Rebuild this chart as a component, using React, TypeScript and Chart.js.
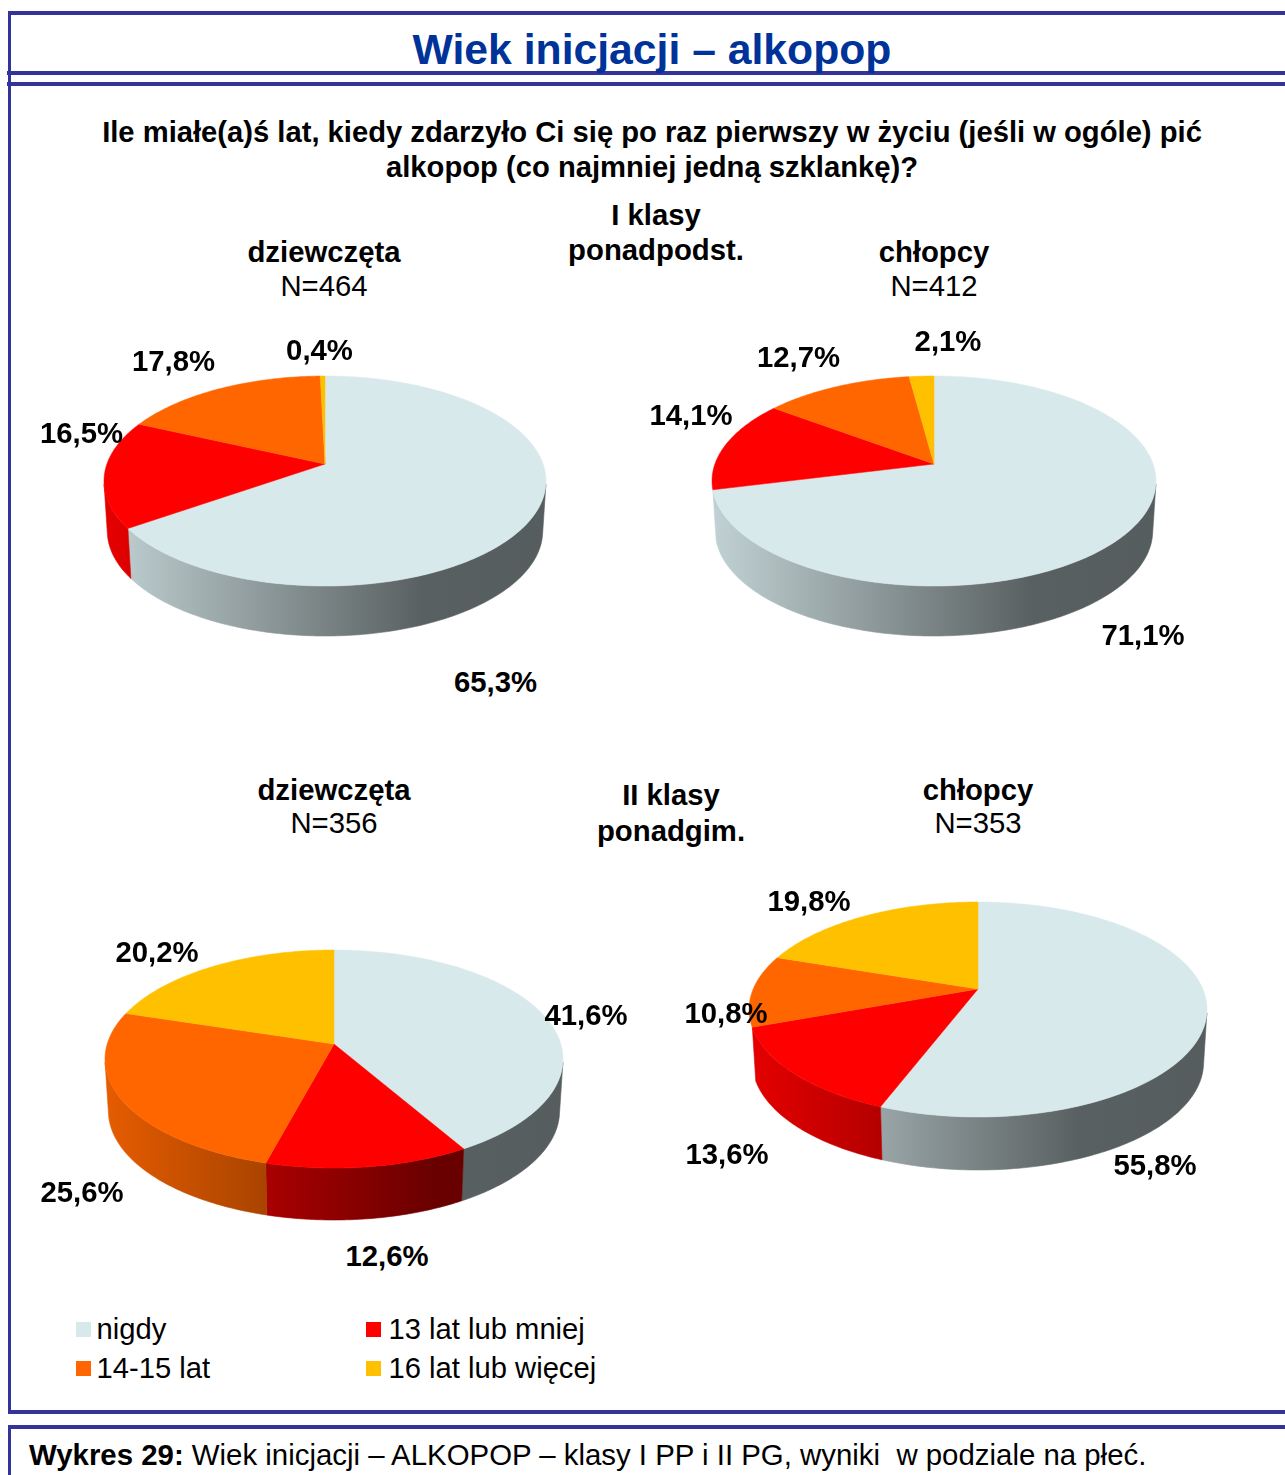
import React, { useEffect, useRef } from "react";
import { Chart, registerables } from "chart.js";

Chart.register(...registerables);

const FONT = '"Liberation Sans", Arial, sans-serif';

const categories = ["nigdy", "13 lat lub mniej", "14-15 lat", "16 lat lub więcej"];
const colors = ["#d8e9ec", "#ff0000", "#ff6600", "#ffc000"];

const girlsFirst = [65.3, 16.5, 17.8, 0.4];
const boysFirst = [71.1, 14.1, 12.7, 2.1];
const girlsSecond = [41.6, 12.6, 25.6, 20.2];
const boysSecond = [55.8, 13.6, 10.8, 19.8];

const pies = [
  { values: girlsFirst, cx: 325, cy: 464, left: 104, right: 546, top: 376, bottom: 586, depth: 50, lift: 0.03,
    labels: [[495.5, 682], [81.5, 433], [173.5, 361], [319.5, 350]] },
  { values: boysFirst, cx: 934, cy: 464, left: 712, right: 1156, top: 376, bottom: 586, depth: 50, lift: 0.085,
    labels: [[1143, 635], [691, 415], [798.5, 357], [948, 341]] },
  { values: girlsSecond, cx: 334, cy: 1044, left: 105, right: 563, top: 950, bottom: 1168, depth: 52, lift: 0.03,
    labels: [[586, 1015], [387, 1256], [82, 1192], [157, 952]] },
  { values: boysSecond, cx: 978, cy: 989, left: 749, right: 1207, top: 902, bottom: 1117, depth: 53, lift: 0.16,
    labels: [[1155, 1165], [727, 1154], [726, 1013], [809, 901]] },
];

const headers: [string, number, number, boolean][] = [
  ["I klasy", 656, 215, true],
  ["ponadpodst.", 656, 250, true],
  ["dziewczęta", 324, 252, true],
  ["N=464", 324, 286, false],
  ["chłopcy", 934, 252, true],
  ["N=412", 934, 286, false],
  ["dziewczęta", 334, 790, true],
  ["N=356", 334, 823, false],
  ["II klasy", 671, 795, true],
  ["ponadgim.", 671, 831, true],
  ["chłopcy", 978, 790, true],
  ["N=353", 978, 823, false],
];

function shade(hex: string, f: number) {
  const n = parseInt(hex.slice(1), 16);
  const r = Math.round(((n >> 16) & 255) * f);
  const g = Math.round(((n >> 8) & 255) * f);
  const b = Math.round((n & 255) * f);
  return `rgb(${r},${g},${b})`;
}

// Draws each arc element of the library's pie as a tilted slab, in perspective.
const slabPlugin = {
  id: "slab",
  beforeDatasetsDraw(chart: any, _args: any, o: any) {
    const ctx = chart.ctx;
    const { cx, cy, left, right, top, bottom, depth, lift, ox, oy } = o;
    const up = cy - top;
    const down = bottom - cy;
    const k = (down - up) / (down + up);
    const B = up * (1 + k);
    const R = ((right - left) / 2) * Math.sqrt(1 - k * k);
    const project = (a: number) => {
      const th = a + Math.PI / 2; // clockwise from 12 o'clock
      const u = Math.sin(th);
      const v = -Math.cos(th);
      const d = 1 - k * v;
      return [cx + (R * u) / d, cy + (B * v) / d];
    };
    const arcs = chart.getDatasetMeta(0).data;
    const wallFrom = Math.acos(-(k + 0.03)) - Math.PI / 2;
    const wallTo = 2 * Math.PI - Math.acos(-(k + lift)) - Math.PI / 2;
    ctx.save();
    ctx.translate(-ox, -oy);
    // side wall
    arcs.forEach((arc: any) => {
      const s = Math.max(arc.startAngle, wallFrom);
      const e = Math.min(arc.endAngle, wallTo);
      if (e <= s) return;
      const color = arc.options.backgroundColor;
      const g = ctx.createLinearGradient(left, 0, right, 0);
      g.addColorStop(0, shade(color, 0.9));
      g.addColorStop(0.72, shade(color, 0.41));
      g.addColorStop(1, shade(color, 0.4));
      const n = Math.max(4, Math.ceil((e - s) * 60));
      ctx.beginPath();
      for (let i = 0; i <= n; i++) {
        const p = project(s + ((e - s) * i) / n);
        if (i === 0) ctx.moveTo(p[0], p[1]);
        else ctx.lineTo(p[0], p[1]);
      }
      for (let i = n; i >= 0; i--) {
        const p = project(s + ((e - s) * i) / n);
        ctx.lineTo(cx + (p[0] - cx) * 0.985, p[1] + depth);
      }
      ctx.closePath();
      ctx.fillStyle = g;
      ctx.strokeStyle = g;
      ctx.lineWidth = 0.6;
      ctx.fill();
      ctx.stroke();
    });
    // top face
    arcs.forEach((arc: any) => {
      const s = arc.startAngle;
      const e = arc.endAngle;
      const n = Math.max(4, Math.ceil((e - s) * 60));
      ctx.beginPath();
      ctx.moveTo(cx, cy);
      for (let i = 0; i <= n; i++) {
        const p = project(s + ((e - s) * i) / n);
        ctx.lineTo(p[0], p[1]);
      }
      ctx.closePath();
      ctx.fillStyle = arc.options.backgroundColor;
      ctx.strokeStyle = arc.options.backgroundColor;
      ctx.lineWidth = 0.5;
      ctx.fill();
      ctx.stroke();
    });
    ctx.restore();
    return false;
  },
};

function Pie({ spec }: { spec: (typeof pies)[number] }) {
  const ref = useRef<HTMLCanvasElement>(null);
  const ox = spec.left - 10;
  const oy = spec.top - 10;
  const w = spec.right - spec.left + 20;
  const h = spec.bottom - spec.top + spec.depth + 20;
  useEffect(() => {
    const chart = new Chart(ref.current as HTMLCanvasElement, {
      type: "pie",
      data: {
        labels: categories,
        datasets: [{ data: spec.values, backgroundColor: colors, borderWidth: 0 }],
      },
      options: {
        animation: false,
        responsive: false,
        events: [],
        plugins: {
          legend: { display: false },
          tooltip: { enabled: false },
          slab: {
            cx: spec.cx, cy: spec.cy, left: spec.left, right: spec.right,
            top: spec.top, bottom: spec.bottom, depth: spec.depth, lift: spec.lift, ox, oy,
          },
        } as any,
      },
      plugins: [slabPlugin as any],
    });
    return () => chart.destroy();
  }, []);
  return (
    <canvas
      ref={ref}
      width={w}
      height={h}
      style={{ position: "absolute", left: ox, top: oy, width: w, height: h }}
    />
  );
}

const centered = (x: number, y: number, size: number, bold: boolean, color = "#000"): React.CSSProperties => ({
  position: "absolute",
  left: x,
  top: y,
  transform: "translate(-50%,-50%)",
  fontFamily: FONT,
  fontSize: size,
  fontWeight: bold ? 700 : 400,
  color,
  whiteSpace: "pre",
  lineHeight: 1,
});

const bar = (left: number, top: number, width: number, height: number): React.CSSProperties => ({
  position: "absolute",
  left,
  top,
  width,
  height,
  background: "#333399",
});

const fmt = (v: number) => v.toFixed(1).replace(".", ",") + "%";

export default function App() {
  const legendPos = [[76, 96.5, 1329], [366, 388.5, 1329], [76, 96.5, 1368], [366, 388.5, 1368]];
  return (
    <div style={{ position: "absolute", left: 0, top: 0, width: 1285, height: 1475, overflow: "hidden", background: "#fff" }}>
      <div style={bar(8, 11, 1277, 4)} />
      <div style={bar(8, 11, 3, 1402)} />
      <div style={bar(7, 71, 1278, 4)} />
      <div style={bar(7, 82, 1278, 4)} />
      <div style={bar(8, 1410, 1277, 4)} />
      <div style={bar(8, 1425, 1277, 4)} />
      <div style={bar(8, 1425, 3, 50)} />

      <div style={centered(652, 49, 42.7, true, "#003399")}>Wiek inicjacji – alkopop</div>
      <div style={centered(652, 133, 29.2, true)}>Ile miałe(a)ś lat, kiedy zdarzyło Ci się po raz pierwszy w życiu (jeśli w ogóle) pić</div>
      <div style={centered(652, 168, 29.2, true)}>alkopop (co najmniej jedną szklankę)?</div>

      {headers.map(([t, x, y, b], i) => (
        <div key={i} style={centered(x, y, 29.3, b)}>{t}</div>
      ))}

      {pies.map((p, i) => (
        <Pie key={i} spec={p} />
      ))}

      {pies.map((p, i) =>
        p.values.map((v, j) => (
          <div key={`${i}-${j}`} style={centered(p.labels[j][0], p.labels[j][1], 29.3, true)}>{fmt(v)}</div>
        ))
      )}

      {categories.map((c, i) => (
        <React.Fragment key={c}>
          <div style={{ position: "absolute", left: legendPos[i][0], top: legendPos[i][2] - 7, width: 15, height: 15, background: colors[i] }} />
          <div style={{ position: "absolute", left: legendPos[i][1], top: legendPos[i][2] + 1, transform: "translateY(-50%)", fontFamily: FONT, fontSize: 29.2, lineHeight: 1, whiteSpace: "pre", color: "#000" }}>{c}</div>
        </React.Fragment>
      ))}

      <div style={{ position: "absolute", left: 29, top: 1455, transform: "translateY(-50%)", fontFamily: FONT, fontSize: 29.4, lineHeight: 1, whiteSpace: "pre", color: "#000" }}>
        <b>Wykres 29:</b> Wiek inicjacji – ALKOPOP – klasy I PP i II PG, wyniki  w podziale na płeć.
      </div>
    </div>
  );
}
